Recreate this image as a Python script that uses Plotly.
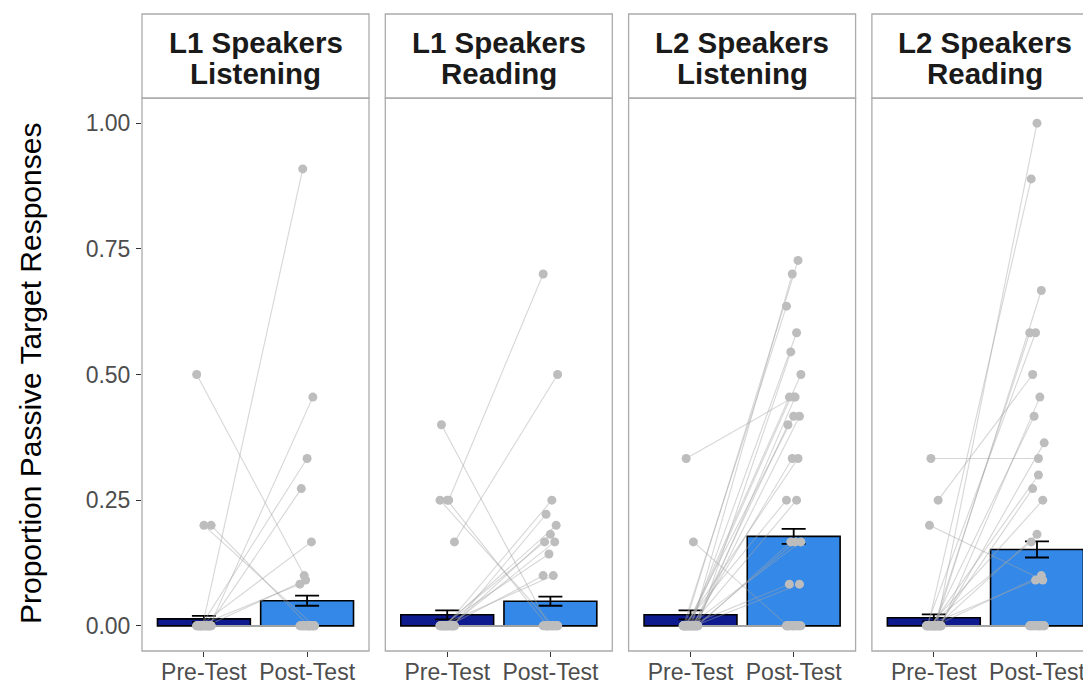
import plotly.graph_objects as go

# ---------------- data ----------------
strip_line1 = ["L1 Speakers", "L1 Speakers", "L2 Speakers", "L2 Speakers"]
strip_line2 = ["Listening", "Reading", "Listening", "Reading"]
tests = ["Pre-Test", "Post-Test"]
y_ticks = [0.0, 0.25, 0.5, 0.75, 1.0]
y_tick_labels = ["0.00", "0.25", "0.50", "0.75", "1.00"]
y_title = "Proportion Passive Target Responses"

mean_pre = [0.014, 0.022, 0.022, 0.016]
mean_post = [0.050, 0.049, 0.178, 0.152]
se_pre = [0.006, 0.009, 0.009, 0.007]
se_post = [0.010, 0.009, 0.015, 0.016]

# individual participants (pre, post), one list pair per panel
l1_listen_pre = [0.5, 0.2, 0.2, 0, 0, 0, 0, 0, 0, 0,
                 0, 0, 0, 0, 0, 0, 0, 0, 0, 0, 0, 0, 0, 0, 0, 0, 0, 0, 0, 0]
l1_listen_post = [0.1, 0, 0, 0.909, 0.455, 0.333, 0.273, 0.167, 0.091, 0.083,
                  0, 0, 0, 0, 0, 0, 0, 0, 0, 0, 0, 0, 0, 0, 0, 0, 0, 0, 0, 0]

l1_read_pre = [0.4, 0.25, 0.25, 0.25, 0.167, 0, 0, 0, 0, 0, 0, 0, 0, 0,
               0, 0, 0, 0, 0, 0, 0, 0, 0, 0, 0, 0, 0, 0, 0, 0]
l1_read_post = [0, 0.7, 0, 0, 0.5, 0.25, 0.222, 0.2, 0.182, 0.167, 0.167, 0.143, 0.1, 0.1,
                0, 0, 0, 0, 0, 0, 0, 0, 0, 0, 0, 0, 0, 0, 0, 0]

l2_listen_pre = [0.333, 0.167, 0, 0, 0, 0, 0, 0, 0, 0, 0, 0, 0, 0, 0, 0, 0, 0, 0, 0, 0, 0,
                 0, 0, 0, 0, 0, 0, 0, 0, 0, 0, 0, 0, 0, 0, 0, 0]
l2_listen_post = [0.455, 0, 0.727, 0.7, 0.636, 0.583, 0.545, 0.5, 0.455, 0.455, 0.417, 0.417,
                  0.4, 0.333, 0.333, 0.25, 0.25, 0.167, 0.167, 0.167, 0.083, 0.083,
                  0, 0, 0, 0, 0, 0, 0, 0, 0, 0, 0, 0, 0, 0, 0, 0]

l2_read_pre = [0.333, 0.25, 0.2, 0, 0, 0, 0, 0, 0, 0, 0, 0, 0, 0, 0, 0, 0, 0,
               0, 0, 0, 0, 0, 0, 0, 0, 0, 0, 0, 0, 0, 0, 0, 0]
l2_read_post = [0.333, 0.5, 0.091, 1.0, 0.889, 0.667, 0.583, 0.583, 0.455, 0.417, 0.364, 0.3,
                0.273, 0.25, 0.182, 0.167, 0.1, 0.091,
                0, 0, 0, 0, 0, 0, 0, 0, 0, 0, 0, 0, 0, 0, 0, 0]

pre_lists = [l1_listen_pre, l1_read_pre, l2_listen_pre, l2_read_pre]
post_lists = [l1_listen_post, l1_read_post, l2_listen_post, l2_read_post]

# ---------------- layout geometry ----------------
# the page body adds an 8px offset; figure coordinates = screen coordinates - OFF
OFF = 8
W, H = 1091, 684
ML = 142 - OFF
MT = 98 - OFF
BOTTOM = 651 - OFF
MB = H - BOTTOM
PW = W - ML
PH = H - MT - MB
panel_px = 227
step_px = 243.3

PRE_COL = "#0d1b8e"
POST_COL = "#3388e8"
BORDER = "#ababab"
FONT = "Liberation Sans, Arial, Helvetica, sans-serif"


def ypaper(screen_y):
    return (BOTTOM - (screen_y - OFF)) / PH


def jit(i, a, b):
    return (((i * a + b) % 11) - 5) * 0.014


fig = go.Figure()
shapes, annotations = [], []

for p in range(4):
    left_px = p * step_px
    x0 = left_px / PW
    x1 = min(1.0, (left_px + panel_px) / PW)
    ax = "" if p == 0 else str(p + 1)

    fig.add_trace(go.Bar(
        x=[1, 2], y=[mean_pre[p], mean_post[p]], width=0.9,
        marker=dict(color=[PRE_COL, POST_COL], line=dict(color="black", width=1.6)),
        error_y=dict(type="data", array=[se_pre[p], se_post[p]], color="black",
                     thickness=1.8, width=12),
        xaxis="x" + ax, yaxis="y" + ax, showlegend=False, hoverinfo="skip"))

    lx, ly, px, py = [], [], [], []
    for i, (a, b) in enumerate(zip(pre_lists[p], post_lists[p])):
        xa = 1 + jit(i, 5, p)
        xb = 2 + jit(i, 7, 3 + p)
        lx += [xa, xb, None]
        ly += [a, b, None]
        px += [xa, xb]
        py += [a, b]
    fig.add_trace(go.Scatter(
        x=lx, y=ly, mode="lines", line=dict(color="rgba(165,165,165,0.45)", width=1.1),
        xaxis="x" + ax, yaxis="y" + ax, showlegend=False, hoverinfo="skip"))
    fig.add_trace(go.Scatter(
        x=px, y=py, mode="markers", marker=dict(color="#bdbdbd", size=9),
        xaxis="x" + ax, yaxis="y" + ax, showlegend=False, hoverinfo="skip"))

    fig.update_layout(**{
        "xaxis" + ax: dict(domain=[x0, x1], range=[0.4, 2.6], tickvals=[1, 2],
                           ticktext=tests, ticks="outside", ticklen=5, tickwidth=1.2,
                           tickcolor="#333333", showgrid=False, zeroline=False,
                           showline=False, automargin=False, ticklabelstandoff=-5,
                           tickfont=dict(family=FONT, size=23, color="#4d4d4d"),
                           fixedrange=True),
        "yaxis" + ax: dict(range=[-0.05, 1.05], tickvals=y_ticks, ticktext=y_tick_labels,
                           ticks="outside" if p == 0 else "", ticklen=5, tickwidth=1.2,
                           tickcolor="#333333", showticklabels=(p == 0),
                           showgrid=False, zeroline=False, showline=False,
                           automargin=False, ticklabelstandoff=1,
                           anchor="x" + ax,
                           tickfont=dict(family=FONT, size=23, color="#4d4d4d"),
                           fixedrange=True),
    })

    x1_full = (left_px + panel_px) / PW
    shapes.append(dict(type="rect", xref="paper", yref="paper", x0=x0, x1=x1_full,
                       y0=0, y1=1, line=dict(color=BORDER, width=1.3), layer="above"))
    shapes.append(dict(type="rect", xref="paper", yref="paper", x0=x0, x1=x1_full,
                       y0=1, y1=ypaper(14), line=dict(color=BORDER, width=1.3),
                       fillcolor="white", layer="above"))
    xc = (x0 + x1_full) / 2
    annotations.append(dict(text="<b>%s</b>" % strip_line1[p], x=xc, y=ypaper(43),
                            xref="paper", yref="paper", xanchor="center", yanchor="middle",
                            showarrow=False, font=dict(family=FONT, size=29.5, color="#1a1a1a")))
    annotations.append(dict(text="<b>%s</b>" % strip_line2[p], x=xc, y=ypaper(73),
                            xref="paper", yref="paper", xanchor="center", yanchor="middle",
                            showarrow=False, font=dict(family=FONT, size=29.5, color="#1a1a1a")))

annotations.append(dict(text=y_title, x=(30 - OFF - ML) / PW, y=ypaper(374), xref="paper",
                        yref="paper", xanchor="center", yanchor="middle", textangle=-90,
                        showarrow=False, font=dict(family=FONT, size=30, color="black")))

fig.update_layout(
    width=W, height=H, template="none",
    margin=dict(l=ML, r=0, t=MT, b=MB, pad=0, autoexpand=False),
    paper_bgcolor="white", plot_bgcolor="white",
    barmode="overlay", showlegend=False,
    shapes=shapes, annotations=annotations,
)

fig.write_html("out.html")
